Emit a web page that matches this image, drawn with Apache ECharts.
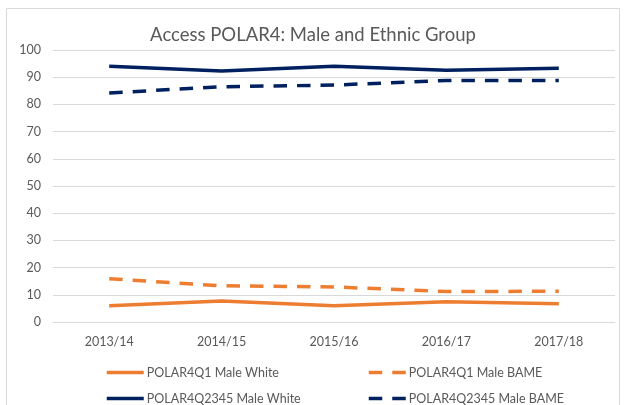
<!DOCTYPE html>
<html>
<head>
<meta charset="utf-8">
<script src="https://cdn.jsdelivr.net/npm/echarts@6/dist/echarts.min.js"></script>
<style>
  html, body { margin: 0; padding: 0; background: #fff; }
  #chart { width: 626px; height: 405px; }
</style>
</head>
<body>
<div id="chart"></div>
<script>
// 数据
const years = ['2013/14', '2014/15', '2015/16', '2016/17', '2017/18']
const q1White = [6.0, 7.7, 6.0, 7.4, 6.7]
const q1Bame = [15.9, 13.3, 12.9, 11.2, 11.3]
const q2345White = [94.0, 92.3, 94.0, 92.6, 93.3]
const q2345Bame = [84.2, 86.5, 87.1, 88.8, 88.8]

const orange = '#ED7D31'
const navy = '#002060'
const textColor = '#595959'
const fontFamily = 'Lato, Arial, sans-serif'

const chart = echarts.init(document.getElementById('chart'))

// 图例：每项单独摆放，线型沿用系列样式，隐藏中间的圆点
function legendAt(name, left, top) {
  return {
    data: [name],
    left: left,
    top: top,
    itemWidth: 37,
    itemHeight: 4,
    itemStyle: { opacity: 0 },
    lineStyle: { width: 3.5 },
    textStyle: { color: textColor, fontSize: 12.5, fontFamily: fontFamily, padding: [0, 0, 0, -2] }
  }
}

function lineSeries(name, data, color, dashed) {
  return {
    name: name,
    type: 'line',
    data: data,
    symbol: 'none',
    lineStyle: { color: color, width: 3.5, type: dashed ? [13.5, 10] : 'solid', cap: 'butt' },
    itemStyle: { color: color }
  }
}

chart.setOption({
  animation: false,
  title: {
    text: 'Access POLAR4: Male and Ethnic Group',
    left: 'center',
    top: 21,
    textStyle: { color: textColor, fontSize: 18.5, fontWeight: 'normal', fontFamily: fontFamily }
  },
  graphic: [{
    type: 'rect',
    shape: { x: 6.5, y: 8.5, width: 613, height: 400 },
    style: { fill: 'none', stroke: '#D9D9D9', lineWidth: 1 },
    silent: true
  }],
  legend: [
    legendAt('POLAR4Q1 Male White', 100, 361),
    legendAt('POLAR4Q1 Male BAME', 362, 361),
    legendAt('POLAR4Q2345 Male White', 100, 387),
    legendAt('POLAR4Q2345 Male BAME', 362, 387)
  ],
  grid: { left: 53, right: 11, top: 50, bottom: 83 },
  xAxis: {
    type: 'category',
    data: years,
    boundaryGap: true,
    axisLine: { show: true, lineStyle: { color: '#D9D9D9' } },
    axisTick: { show: false },
    axisLabel: { color: textColor, fontSize: 12.5, fontFamily: fontFamily, margin: 13 }
  },
  yAxis: {
    type: 'value',
    min: 0,
    max: 100,
    interval: 10,
    axisLine: { show: false },
    axisTick: { show: false },
    axisLabel: { color: textColor, fontSize: 12.5, fontFamily: fontFamily, margin: 12 },
    splitLine: { lineStyle: { color: '#D9D9D9', width: 1 } }
  },
  series: [
    lineSeries('POLAR4Q1 Male White', q1White, orange, false),
    lineSeries('POLAR4Q1 Male BAME', q1Bame, orange, true),
    lineSeries('POLAR4Q2345 Male White', q2345White, navy, false),
    lineSeries('POLAR4Q2345 Male BAME', q2345Bame, navy, true)
  ]
})
</script>
</body>
</html>
